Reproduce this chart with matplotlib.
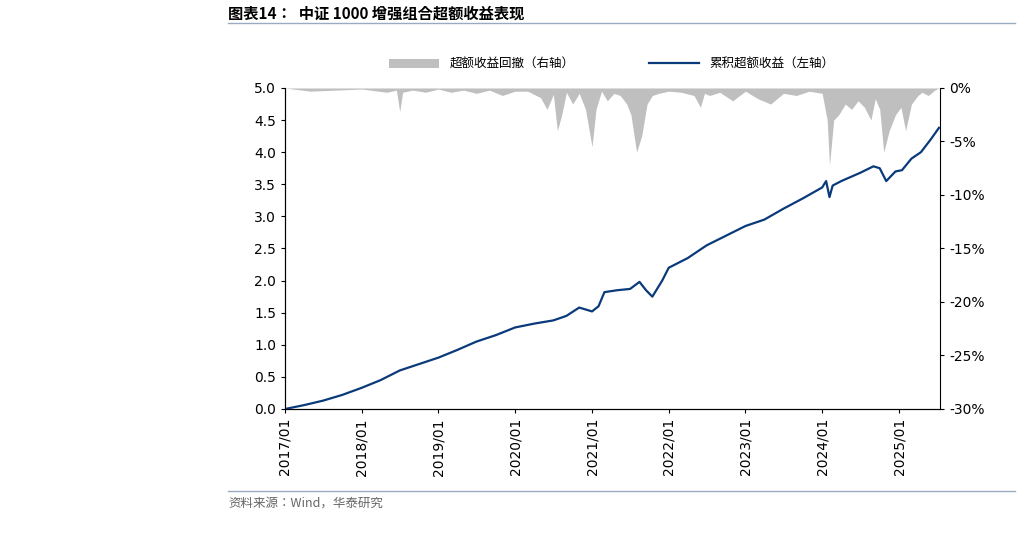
import matplotlib
matplotlib.use("Agg")
import matplotlib.pyplot as plt
import pandas as pd

plt.rcParams["font.family"] = ["Noto Sans CJK JP", "Noto Sans CJK SC", "DejaVu Sans"]

cum_dates = ["2017-01-01","2017-04-01","2017-07-01","2017-10-01","2018-01-01","2018-04-01","2018-07-01",
             "2018-10-01","2019-01-01","2019-04-01","2019-07-01","2019-10-01","2020-01-01","2020-04-01",
             "2020-07-01","2020-09-01","2020-11-01","2021-01-01","2021-02-01","2021-03-01","2021-05-01",
             "2021-07-01","2021-08-15","2021-09-15","2021-10-15","2021-12-01","2022-01-01","2022-04-01",
             "2022-07-01","2022-10-01","2023-01-01","2023-04-01","2023-07-01","2023-10-01","2024-01-01",
             "2024-01-20","2024-02-05","2024-02-20","2024-04-01","2024-07-01","2024-09-01","2024-10-01",
             "2024-11-01","2024-12-15","2025-01-15","2025-03-01","2025-04-15","2025-06-01","2025-07-10"]
cum_vals = [0.0,0.06,0.13,0.22,0.33,0.45,0.6,0.7,0.8,0.92,1.05,1.15,1.27,1.33,1.38,1.45,1.58,1.52,1.6,1.82,1.85,
            1.87,1.98,1.85,1.75,2.0,2.2,2.35,2.55,2.7,2.85,2.95,3.12,3.28,3.45,3.55,3.3,3.48,3.55,3.68,3.78,
            3.75,3.55,3.7,3.72,3.9,4.0,4.2,4.38]

dd_dates = ["2017-01-01","2017-05-01","2017-09-01","2018-01-01","2018-05-01","2018-06-15","2018-07-01","2018-07-15",
            "2018-09-01","2018-11-01","2019-01-01","2019-03-01","2019-05-01","2019-07-01","2019-09-01",
            "2019-11-01","2020-01-01","2020-03-01","2020-05-01","2020-06-01","2020-07-01","2020-07-20",
            "2020-08-10","2020-09-01","2020-10-01","2020-11-01","2020-12-01","2021-01-01","2021-01-20",
            "2021-02-15","2021-03-15","2021-04-15","2021-05-15","2021-06-15","2021-07-05","2021-08-01",
            "2021-08-25","2021-09-20","2021-10-15","2021-11-15","2022-01-01","2022-03-01","2022-05-01",
            "2022-06-01","2022-06-20","2022-07-15","2022-09-01","2022-11-01","2023-01-01","2023-03-01",
            "2023-05-01","2023-07-01","2023-09-01","2023-11-01","2024-01-01","2024-01-25","2024-02-05",
            "2024-02-25","2024-03-20","2024-04-20","2024-05-20","2024-06-20","2024-07-20","2024-08-20",
            "2024-09-10","2024-10-01","2024-10-20","2024-11-15","2024-12-15","2025-01-10","2025-02-01",
            "2025-03-01","2025-04-01","2025-04-20","2025-05-20","2025-06-20","2025-07-10"]
dd_vals = [0.0,-0.3,-0.2,-0.1,-0.4,-0.2,-2.2,-0.4,-0.2,-0.4,-0.1,-0.4,-0.2,-0.5,-0.2,-0.7,-0.3,-0.3,-0.9,-2.0,
           -0.6,-4.0,-2.5,-0.4,-1.5,-0.5,-2.0,-5.5,-2.0,-0.3,-1.2,-0.5,-0.7,-1.5,-2.5,-6.0,-4.5,-1.5,-0.7,-0.5,
           -0.3,-0.4,-0.7,-1.8,-0.5,-0.7,-0.4,-1.2,-0.3,-1.0,-1.5,-0.5,-0.7,-0.3,-0.5,-3.0,-7.2,-3.0,-2.5,-1.5,
           -2.0,-1.2,-1.8,-3.0,-1.0,-2.0,-6.0,-4.0,-2.5,-1.8,-4.0,-1.5,-0.7,-0.4,-0.7,-0.2,0.0]

left_ticks = [0.0,0.5,1.0,1.5,2.0,2.5,3.0,3.5,4.0,4.5,5.0]
right_ticks = [-30,-25,-20,-15,-10,-5,0]
x_ticks = [f"{y}-01-01" for y in range(2017,2026)]

cd = pd.to_datetime(cum_dates); dd = pd.to_datetime(dd_dates)
navy = "#0a3a7a"; grey = "#bfbfbf"

fig = plt.figure(figsize=(10.2,5.53), dpi=100)
ax = fig.add_axes([0.2794,0.2604,0.6422,0.5805])
ax2 = ax.twinx()
ax.set_zorder(2); ax.patch.set_visible(False)
ax2.fill_between(dd, dd_vals, 0, color=grey, lw=0, label="超额收益回撤（右轴）")
ax2.set_ylim(-30,0); ax2.set_yticks(right_ticks)
ax2.set_yticklabels([f"{v}%" for v in right_ticks], fontfamily="DejaVu Sans")
ax.plot(cd, cum_vals, color=navy, lw=1.6, label="累积超额收益（左轴）")
ax.set_ylim(0,5); ax.set_yticks(left_ticks)
ax.set_yticklabels([f"{v:.1f}" for v in left_ticks], fontfamily="DejaVu Sans")
xt = pd.to_datetime(x_ticks)
ax.set_xticks(xt); ax.set_xticklabels([d.strftime("%Y/%m") for d in xt], rotation=90, fontfamily="DejaVu Sans")
ax.set_xlim(pd.Timestamp("2017-01-01"), pd.Timestamp("2025-07-15"))
for a in (ax, ax2):
    a.tick_params(labelsize=10, length=3, direction="out")
    a.spines["top"].set_visible(False)
ax.spines["right"].set_visible(False)
h1,l1 = ax2.get_legend_handles_labels(); h2,l2 = ax.get_legend_handles_labels()
fig.legend(h1+h2, l1+l2, loc="center", bbox_to_anchor=(0.6,0.884), ncol=2, frameon=False,
           fontsize=9, handlelength=4, columnspacing=6)
fig.text(0.2235,0.975,"图表14：  中证 1000 增强组合超额收益表现", fontsize=11, weight="bold", va="center")
fig.add_artist(plt.Line2D([0.2235,0.995],[0.958,0.958], color="#9aaac0", lw=1))
fig.add_artist(plt.Line2D([0.2235,0.995],[0.112,0.112], color="#9aaac0", lw=1))
fig.text(0.2235,0.09,"资料来源：Wind，华泰研究", fontsize=9, color="#666666", va="center")
fig.savefig("out.png", dpi=100)
